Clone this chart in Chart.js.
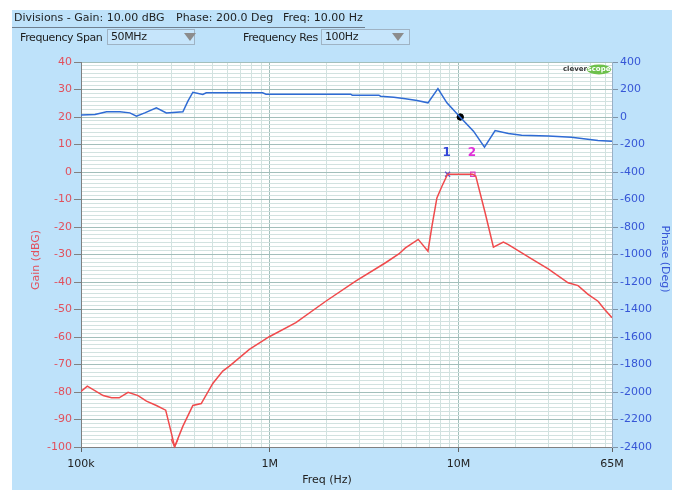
<!DOCTYPE html>
<html>
<head>
<meta charset="utf-8">
<script src="https://cdn.jsdelivr.net/npm/chart.js@4.4.0/dist/chart.umd.min.js"></script>
<style>
  html, body { margin: 0; padding: 0; background: #fff; }
  #wrap { position: relative; width: 681px; height: 490px; overflow: hidden; font-family: 'DejaVu Sans', sans-serif; color: #1e1e1e; }
  #chart { position: absolute; left: 0; top: 0; }
  .hdr { position: absolute; top: 11px; font-size: 11px; line-height: 13px; white-space: nowrap; }
  .ctl { position: absolute; top: 31px; font-size: 11px; line-height: 13px; letter-spacing: -0.4px; white-space: nowrap; }
  .box { position: absolute; top: 29px; height: 16px; background: #c6e5fb; border: 1px solid #9fb3c4; font-size: 11px; line-height: 14px; letter-spacing: -0.4px; padding-left: 3px; box-sizing: border-box; }
  .tri { position: absolute; top: 3px; width: 0; height: 0; border-left: 6px solid transparent; border-right: 6px solid transparent; border-top: 8px solid #8c8c8c; }
  #rule { position: absolute; left: 12px; top: 27px; width: 353px; height: 1px; background: #6f7f8f; }
</style>
</head>
<body>
<div id="wrap">
  <canvas id="chart" width="681" height="490"></canvas>
  <div class="hdr" style="left:14px">Divisions - Gain: 10.00 dBG</div>
  <div class="hdr" style="left:176px">Phase: 200.0 Deg</div>
  <div class="hdr" style="left:283px">Freq: 10.00 Hz</div>
  <div id="rule"></div>
  <div class="ctl" style="left:20px">Frequency Span</div>
  <div class="box" style="left:107px;width:88px">50MHz<span class="tri" style="left:76px"></span></div>
  <div class="ctl" style="left:243px">Frequency Res</div>
  <div class="box" style="left:321px;width:89px">100Hz<span class="tri" style="left:70px"></span></div>
</div>
<script>
// gain trace (Hz, dBG)
const gainFreq = [1.0e5, 1.08e5, 1.311e5, 1.452e5, 1.593e5, 1.776e5, 2.006e5, 2.222e5, 2.508e5, 2.809e5,
  2.949e5, 3.133e5, 3.466e5, 3.914e5, 4.335e5, 4.991e5, 5.636e5, 6.114e5, 7.796e5, 9.94e5,
  1.375e6, 1.98e6, 2.85e6, 4.104e6, 4.825e6, 5.232e6, 6.114e6, 6.887e6, 7.23e6, 7.68e6,
  8.166e6, 8.75e6, 1.19e7, 1.234e7, 1.383e7, 1.53e7, 1.728e7, 1.836e7, 2.437e7, 2.985e7,
  3.806e7, 4.298e7, 4.853e7, 5.481e7, 5.945e7, 6.5e7];
const gainDb = [-79.8, -77.9, -81.3, -82.1, -82.1, -80.1, -81.3, -83.3, -84.9, -86.6,
  -92.4, -99.9, -92.4, -84.9, -84.2, -76.9, -72.4, -70.6, -64.5, -59.9,
  -54.8, -47, -39.7, -33, -29.8, -27.6, -24.5, -28.8, -19.7, -9.4,
  -5.2, -0.8, -0.8, -1.5, -14.8, -27.3, -25.5, -26.4, -31.6, -35.2,
  -40.3, -41.3, -44.5, -47, -50, -53];

// phase trace (Hz, Deg)
const phaseFreq = [1e5, 1.186e5, 1.366e5, 1.607e5, 1.814e5, 1.967e5, 2.177e5, 2.508e5, 2.833e5, 3.466e5,
  3.684e5, 3.914e5, 4.419e5, 4.606e5, 9.163e5, 9.55e5, 2.682e6, 2.735e6, 3.783e6, 3.862e6,
  4.539e6, 5.232e6, 6.026e6, 6.887e6, 7.777e6, 8.676e6, 1.021e7, 1.2e7, 1.372e7, 1.562e7,
  1.836e7, 2.158e7, 2.985e7, 3.963e7, 5.481e7, 6.5e7];
const phaseDeg = [15, 18, 38, 38, 30, 6, 30, 67, 30, 38,
  115, 180, 164, 176, 176, 166, 166, 159, 159, 151,
  144, 132, 120, 103, 207, 103, -1, -103, -219, -98,
  -120, -132, -139, -147, -171, -176];

// cursors
const markerNames = ['1', '2'];
const markerFreq = [8.75e6, 1.19e7];
const markerGain = [-0.8, -0.8];
const markerLabelGain = 7;
const cursorFreq = [1.021e7];
const cursorPhase = [0];
const troughFreq = 3.133e5;

// axes
const freqTickValues = [1e5, 1e6, 1e7, 6.5e7];
const freqTickLabels = ['100k', '1M', '10M', '65M'];
const gainMin = -100, gainMax = 40, gainStep = 10, gainSub = 7;
const phaseMin = -2400, phaseMax = 400, phaseStep = 200;

const BG_BLUE = '#bee2fa';
const GAIN_COLOR = '#f04a4c';
const PHASE_COLOR = '#2f6bd4';
const GAIN_LABEL = '#e2505c';
const PHASE_LABEL = '#3656d6';
const GRID_MAJOR = '#a3bfbb';
const GRID_MINOR = '#d2e2e0';
const FONT = "'DejaVu Sans', sans-serif";

const isGainMajor = v => Math.abs(v / gainStep - Math.round(v / gainStep)) < 1e-6;
const isDecade = v => Math.abs(Math.log10(v) - Math.round(Math.log10(v))) < 1e-6;
const freqLabelFor = v => {
  const i = freqTickValues.findIndex(t => Math.abs(t - v) / t < 1e-6);
  return i >= 0 ? freqTickLabels[i] : '';
};

const overlay = {
  id: 'overlay',
  beforeDraw(chart) {
    const { ctx, chartArea: a } = chart;
    ctx.save();
    ctx.fillStyle = '#fff';
    ctx.fillRect(0, 0, chart.width, chart.height);
    ctx.fillStyle = BG_BLUE;
    ctx.fillRect(12, 10, 660, 480);
    ctx.fillStyle = '#fff';
    ctx.fillRect(a.left, a.top, a.right - a.left, a.bottom - a.top);
    ctx.restore();
  },
  afterDraw(chart) {
    const { ctx, chartArea: a, scales } = chart;
    ctx.save();
    ctx.font = '11px ' + FONT;
    ctx.textAlign = 'center';
    ctx.textBaseline = 'middle';
    ctx.fillStyle = '#222';
    ctx.fillText('Freq (Hz)', 327, 480);

    ctx.save();
    ctx.translate(36, 260);
    ctx.rotate(-Math.PI / 2);
    ctx.fillStyle = GAIN_LABEL;
    ctx.fillText('Gain (dBG)', 0, 0);
    ctx.restore();

    ctx.save();
    ctx.translate(665, 259);
    ctx.rotate(Math.PI / 2);
    ctx.fillStyle = PHASE_LABEL;
    ctx.fillText('Phase (Deg)', 0, 0);
    ctx.restore();

    // cursor numbers
    ctx.font = 'bold 12px ' + FONT;
    const markerColors = ['#3246d8', '#e02ed8'];
    markerFreq.forEach((f, i) => {
      ctx.fillStyle = markerColors[i];
      ctx.fillText(markerNames[i], scales.x.getPixelForValue(f) - 1, scales.y.getPixelForValue(markerLabelGain));
    });

    // minimum marker on the bottom axis
    const vx = scales.x.getPixelForValue(troughFreq);
    ctx.strokeStyle = GAIN_COLOR;
    ctx.lineWidth = 1.2;
    ctx.beginPath();
    ctx.moveTo(vx - 3.5, a.bottom - 8);
    ctx.lineTo(vx, a.bottom);
    ctx.lineTo(vx + 3.5, a.bottom - 8);
    ctx.stroke();

    // logo
    const lx = a.right - 13, ly = a.top + 7.5;
    ctx.fillStyle = '#6cc04a';
    ctx.beginPath();
    ctx.ellipse(lx, ly, 12, 5, 0, 0, 2 * Math.PI);
    ctx.fill();
    ctx.font = 'bold 7px ' + FONT;
    ctx.fillStyle = '#fff';
    ctx.fillText('scope', lx, ly);
    ctx.textAlign = 'right';
    ctx.fillStyle = '#3a3a3a';
    ctx.fillText('clever', lx - 12, ly);
    ctx.restore();
  }
};

const ctx = document.getElementById('chart').getContext('2d');

const chart = new Chart(ctx, {
  type: 'line',
  data: {
    datasets: [
      {
        label: 'Phase',
        yAxisID: 'y2',
        data: phaseFreq.map((f, i) => ({ x: f, y: phaseDeg[i] })),
        borderColor: PHASE_COLOR,
        borderWidth: 1.5,
        pointRadius: 0,
        tension: 0
      },
      {
        label: 'Gain',
        yAxisID: 'y',
        data: gainFreq.map((f, i) => ({ x: f, y: gainDb[i] })),
        borderColor: GAIN_COLOR,
        borderWidth: 1.5,
        pointRadius: 0,
        tension: 0
      },
      {
        label: 'Cursor 1',
        yAxisID: 'y',
        data: [{ x: markerFreq[0], y: markerGain[0] }],
        showLine: false,
        pointStyle: 'crossRot',
        pointRadius: 3.5,
        borderColor: '#6a4fc8',
        borderWidth: 1.3
      },
      {
        label: 'Cursor 2',
        yAxisID: 'y',
        data: [{ x: markerFreq[1], y: markerGain[1] }],
        showLine: false,
        pointStyle: 'rect',
        pointRadius: 3,
        borderColor: '#e040c0',
        backgroundColor: 'rgba(0,0,0,0)',
        borderWidth: 1.3
      },
      {
        label: 'Phase cursor',
        yAxisID: 'y2',
        data: cursorFreq.map((f, i) => ({ x: f, y: cursorPhase[i] })),
        showLine: false,
        pointRadius: 3.2,
        borderColor: '#000',
        backgroundColor: '#000'
      }
    ]
  },
  options: {
    responsive: false,
    devicePixelRatio: 1,
    animation: false,
    layout: { padding: { top: 62, left: 0, right: 0, bottom: 0 } },
    plugins: {
      legend: { display: false },
      tooltip: { enabled: false }
    },
    scales: {
      x: {
        type: 'logarithmic',
        min: 1e5,
        max: 6.5e7,
        afterBuildTicks(scale) {
          const t = [];
          for (let d = 1e5; d <= 1e7; d *= 10) {
            for (let m = 1; m <= 9; m++) {
              if (d * m <= 6e7) t.push({ value: d * m });
            }
          }
          t.push({ value: 6.5e7 });
          scale.ticks = t;
        },
        afterFit(scale) { scale.height = 43; },
        ticks: {
          autoSkip: false,
          maxRotation: 0,
          padding: 6,
          color: '#222',
          font: { family: FONT, size: 11 },
          callback: v => freqLabelFor(v)
        },
        grid: {
          color: c => (c.tick && c.tick.value >= 6.5e7) ? 'rgba(0,0,0,0)' : (c.tick && isDecade(c.tick.value) ? GRID_MAJOR : GRID_MINOR),
          tickColor: c => (c.tick && freqLabelFor(c.tick.value)) ? '#606060' : 'rgba(0,0,0,0)',
          tickLength: 5,
          lineWidth: 1
        },
        border: { color: '#808080' }
      },
      y: {
        position: 'left',
        min: gainMin,
        max: gainMax,
        afterBuildTicks(scale) {
          const t = [];
          const n = (gainMax - gainMin) / gainStep * gainSub;
          for (let i = 0; i <= n; i++) t.push({ value: gainMin + i * gainStep / gainSub });
          scale.ticks = t;
        },
        afterFit(scale) { scale.width = 81; },
        ticks: {
          autoSkip: false,
          padding: 2,
          color: GAIN_LABEL,
          font: { family: FONT, size: 11 },
          callback: v => isGainMajor(v) ? String(Math.round(v)) : ''
        },
        grid: {
          color: c => (c.tick && isGainMajor(c.tick.value)) ? GRID_MAJOR : GRID_MINOR,
          tickColor: c => (c.tick && isGainMajor(c.tick.value)) ? '#808080' : 'rgba(0,0,0,0)',
          tickLength: 7
        },
        border: { color: '#808080' }
      },
      y2: {
        position: 'right',
        min: phaseMin,
        max: phaseMax,
        afterFit(scale) { scale.width = 69; },
        ticks: {
          stepSize: phaseStep,
          autoSkip: false,
          padding: 2,
          color: PHASE_LABEL,
          font: { family: FONT, size: 11 },
          callback: v => String(v)
        },
        grid: {
          drawOnChartArea: false,
          tickColor: '#7f93a8',
          tickLength: 6
        },
        border: { color: '#9ab0c6' }
      }
    }
  },
  plugins: [overlay]
});
</script>
</body>
</html>
